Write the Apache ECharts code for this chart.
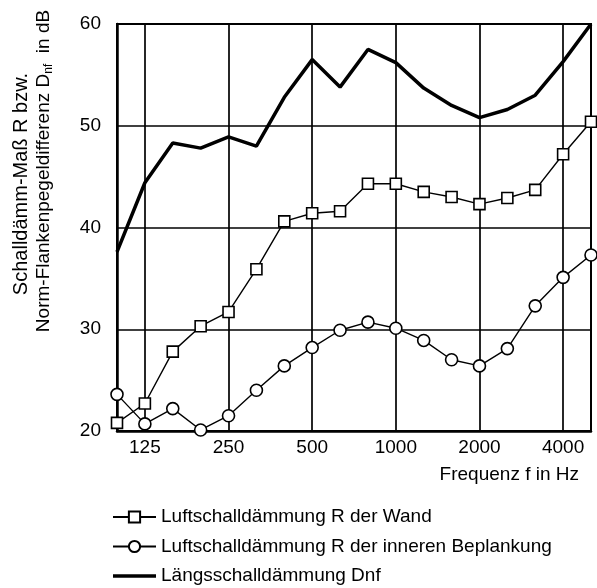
<!DOCTYPE html>
<html>
<head>
<meta charset="utf-8">
<script src="https://cdn.jsdelivr.net/npm/echarts@6/dist/echarts.min.js"></script>
<style>
  html, body { margin: 0; padding: 0; background: #fff; }
  #chart { width: 597px; height: 588px; }
</style>
</head>
<body>
<div id="chart"></div>
<script>
const freqs = ['100', '125', '160', '200', '250', '315', '400', '500', '630', '800', '1000', '1250', '1600', '2000', '2500', '3150', '4000', '5000']
const labeledFreqs = ['125', '250', '500', '1000', '2000', '4000']

const wand = [20.8, 22.7, 27.8, 30.3, 31.7, 35.9, 40.6, 41.4, 41.6, 44.3, 44.3, 43.5, 43.0, 42.3, 42.9, 43.7, 47.2, 50.4]
const beplankung = [23.6, 20.7, 22.2, 20.1, 21.5, 24.0, 26.4, 28.2, 29.9, 30.7, 30.1, 28.9, 27.0, 26.4, 28.1, 32.3, 35.1, 37.3]
const dnf = [37.6, 44.4, 48.3, 47.8, 48.9, 48.0, 52.8, 56.5, 53.8, 57.5, 56.2, 53.7, 52.0, 50.8, 51.6, 53.0, 56.3, 60.0]

const yMin = 20
const yMax = 60
const yStep = 10

const seriesNames = [
  'Luftschalldämmung R der Wand',
  'Luftschalldämmung R der inneren Beplankung',
  'Längsschalldämmung Dnf'
]

const font = '"Liberation Sans", Arial, sans-serif'
const showLabel = (i) => labeledFreqs.includes(freqs[i])

const markerStyle = { color: '#fff', borderColor: '#000', borderWidth: 1.6 }

const chart = echarts.init(document.getElementById('chart'), null, { renderer: 'canvas' })

chart.setOption({
  animation: false,
  backgroundColor: '#fff',
  textStyle: { fontFamily: font, color: '#000' },
  grid: {
    left: 117, right: 6, top: 24, bottom: 157,
    show: true, borderColor: '#000', borderWidth: 2
  },
  xAxis: {
    type: 'category',
    data: freqs,
    boundaryGap: false,
    axisLine: { lineStyle: { color: '#000', width: 2.5 } },
    axisTick: { show: false },
    axisLabel: {
      interval: (i) => showLabel(i),
      color: '#000', fontSize: 19, fontFamily: font, margin: 7
    },
    splitLine: {
      show: true,
      interval: (i) => showLabel(i),
      lineStyle: { color: '#000', width: 1.7 }
    }
  },
  yAxis: {
    type: 'value',
    min: yMin, max: yMax, interval: yStep,
    axisLine: { show: true, lineStyle: { color: '#000', width: 2.5 } },
    axisTick: { show: false },
    axisLabel: { color: '#000', fontSize: 19, fontFamily: font, margin: 16 },
    splitLine: { lineStyle: { color: '#000', width: 1.7 } }
  },
  legend: {
    orient: 'vertical',
    left: 112, top: 507, height: 90,
    padding: 0,
    itemWidth: 43, itemHeight: 14, itemGap: 9.5,
    textStyle: { fontSize: 19, fontFamily: font, color: '#000', lineHeight: 20 },
    data: [
      seriesNames[0],
      seriesNames[1],
      { name: seriesNames[2], icon: 'path://M0,0H43V3.5H0Z', itemStyle: { color: '#000', borderWidth: 0 } }
    ]
  },
  graphic: [
    {
      type: 'text', x: 21, y: 184, rotation: Math.PI / 2,
      style: { text: 'Schalldämm-Maß R bzw.', font: '20px ' + font, fill: '#000', align: 'center', verticalAlign: 'middle' }
    },
    {
      type: 'text', x: 44, y: 171, rotation: Math.PI / 2,
      style: {
        text: '{a|Norm-Flankenpegeldifferenz D}{s|nf}{a|  in dB}',
        align: 'center', verticalAlign: 'middle', fill: '#000',
        rich: {
          a: { fontSize: 19, fontFamily: font, fill: '#000', lineHeight: 22 },
          s: { fontSize: 12, fontFamily: font, fill: '#000', lineHeight: 12, verticalAlign: 'bottom' }
        }
      }
    },
    {
      type: 'text', right: 18, top: 465,
      style: { text: 'Frequenz f in Hz', font: '19px ' + font, fill: '#000' }
    }
  ],
  series: [
    {
      name: seriesNames[0], type: 'line', data: wand, clip: false,
      symbol: 'rect', symbolSize: 11,
      itemStyle: markerStyle,
      lineStyle: { color: '#000', width: 1.4 },
      z: 3
    },
    {
      name: seriesNames[1], type: 'line', data: beplankung, clip: false,
      symbol: 'circle', symbolSize: 12,
      itemStyle: markerStyle,
      lineStyle: { color: '#000', width: 1.4 },
      z: 3
    },
    {
      name: seriesNames[2], type: 'line', data: dnf, clip: false,
      symbol: 'none',
      itemStyle: { color: '#000' },
      lineStyle: { color: '#000', width: 3.5 },
      z: 2
    }
  ]
})
</script>
</body>
</html>
